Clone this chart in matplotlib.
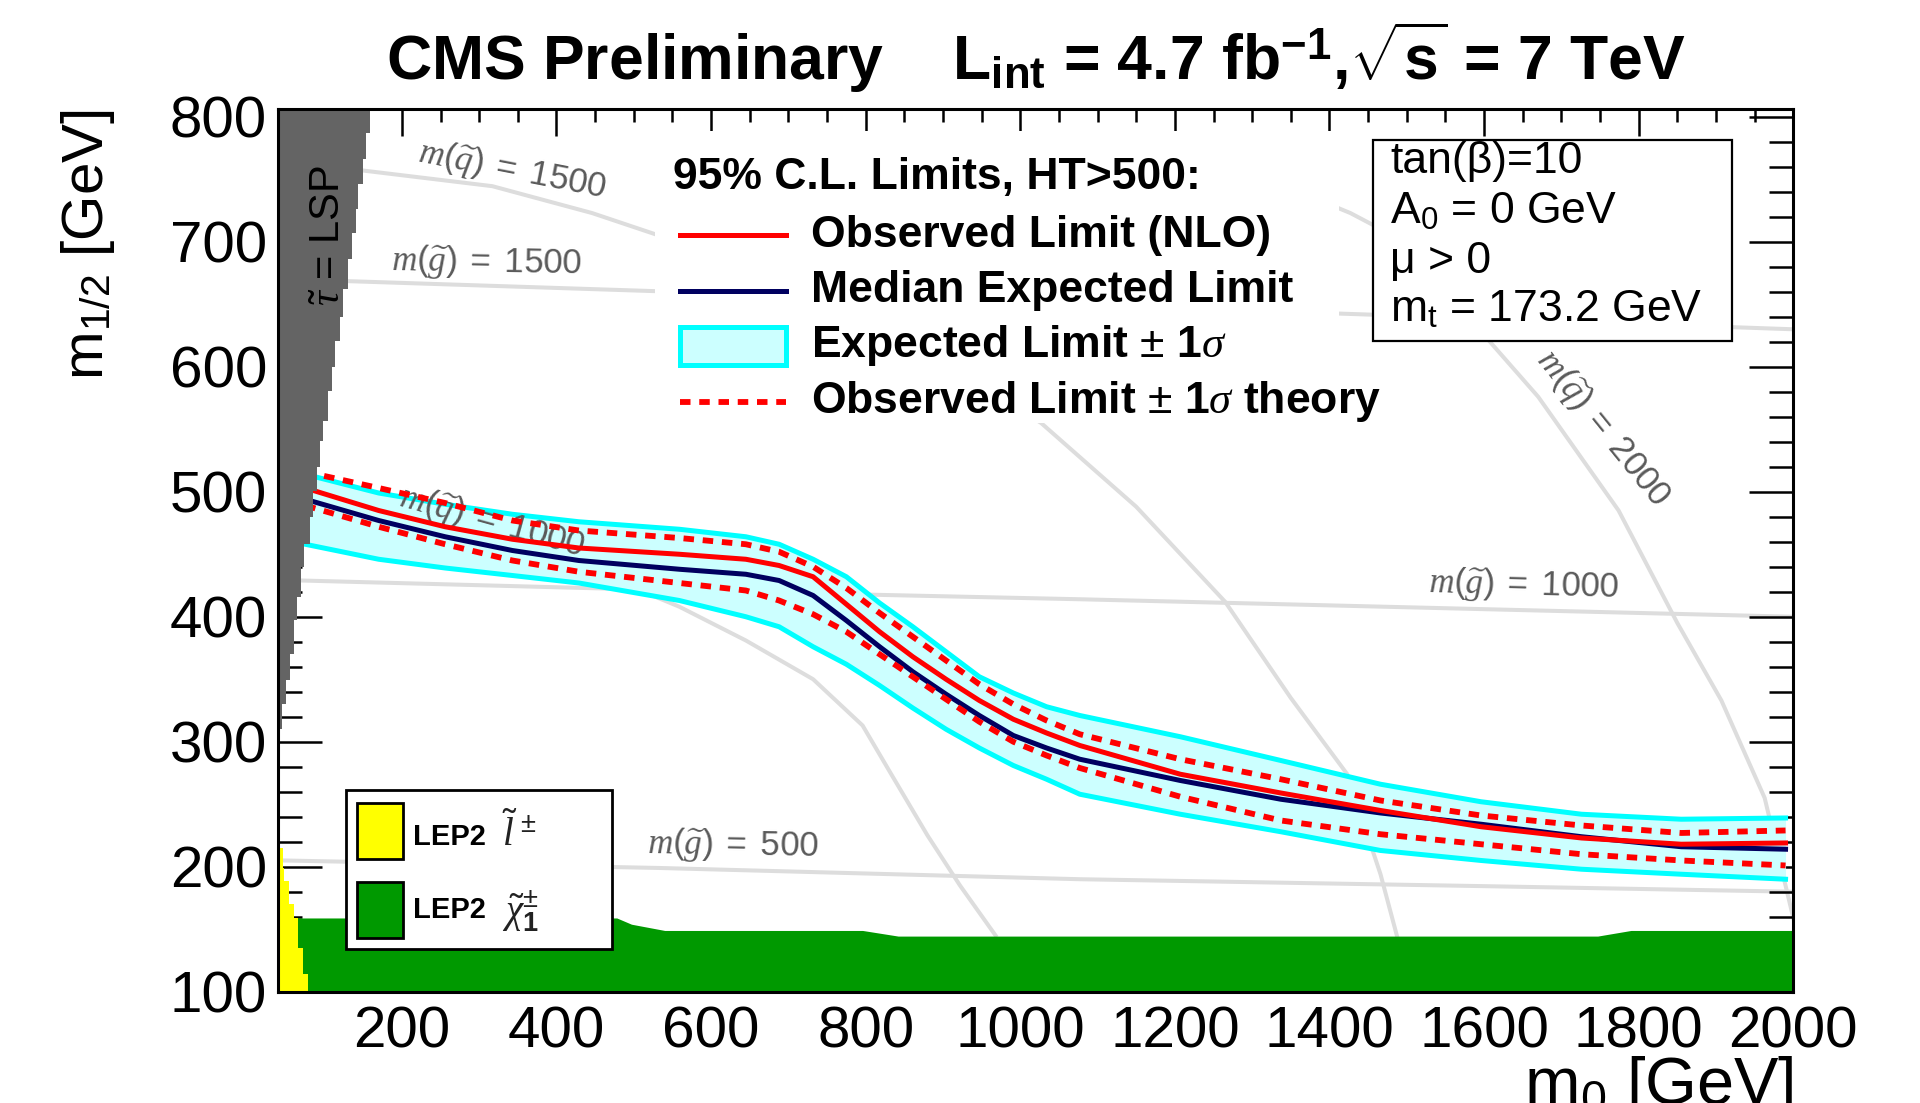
import matplotlib
matplotlib.use('Agg')
import matplotlib.pyplot as plt
from matplotlib.patches import Rectangle

plt.rcParams['font.family'] = ['Liberation Sans', 'DejaVu Sans']
plt.rcParams['mathtext.fontset'] = 'custom'
plt.rcParams['mathtext.rm'] = 'Liberation Sans'
plt.rcParams['mathtext.it'] = 'Liberation Serif:italic'
plt.rcParams['mathtext.bf'] = 'Liberation Sans:bold'
plt.rcParams['mathtext.sf'] = 'Liberation Sans'

# limit curves (m0, m1/2)
m0 = [75, 170, 256, 343, 429, 559, 645, 688, 732, 775, 818, 861, 904, 947, 991, 1034, 1077,
      1207, 1337, 1466, 1596, 1726, 1855, 1990]
obs = [503, 485, 472, 462, 455, 450, 446, 441, 432, 410, 388, 368, 350, 333, 318, 307, 297,
       274, 259, 245, 232, 223, 218, 219]
exp_med = [494, 477, 464, 453, 445, 438, 434, 429, 417, 397, 376, 356, 338, 321, 305, 295, 286,
           269, 254, 243, 234, 224, 216, 214]
obs_up = [516, 503, 491, 477, 469, 463, 458, 452, 440, 423, 403, 384, 365, 346, 330, 317, 306,
          286, 270, 253, 241, 233, 227, 229]
obs_dn = [489, 472, 458, 445, 436, 427, 421, 413, 402, 388, 370, 352, 334, 316, 300, 289, 279,
          256, 237, 226, 218, 210, 205, 201]
exp_up = [514, 499, 490, 482, 476, 470, 464, 458, 446, 432, 411, 392, 372, 352, 339, 328, 321,
          304, 285, 266, 252, 242, 238, 239]
exp_dn = [458, 446, 439, 433, 427, 413, 400, 392, 376, 362, 345, 327, 310, 295, 281, 270, 258,
          242, 228, 213, 205, 198, 194, 190]

# stau LSP region (staircase edge)
lsp_y = [806, 787, 766, 746, 726, 707, 686, 662, 640, 621, 600, 581, 557, 541, 520, 501, 480, 458, 440, 416, 397, 370, 349, 330, 310]
lsp_x = [159, 153, 150, 143, 140, 135, 130, 124, 120, 114, 109, 104, 98, 94, 90, 85, 81, 73, 70, 64, 61, 55, 50, 45, 42]

# LEP2 slepton (yellow) and chargino (green)
slep_y = [215, 199, 188.5, 170, 159, 135, 114, 100]
slep_x = [46, 48, 54.5, 60, 65, 72, 78, 78]
char_x = [40, 478, 497, 540, 796, 842, 1747, 1790, 2000]
char_y = [159, 159, 154, 149, 149, 144.5, 144.5, 149, 149]

# iso-mass lines
sq1000_x = [75, 170, 256, 343, 429, 485, 559, 645, 732, 796, 835, 880, 922, 968]
sq1000_y = [490, 482, 473, 459, 440, 427, 408, 381, 350, 313, 272, 225, 185, 145]
sq1500_x = [150, 317, 446, 528, 700, 880, 1027, 1150, 1265, 1350, 1423, 1466, 1488]
sq1500_y = [757, 744.5, 723, 706, 668, 612, 555, 488, 412, 335, 274, 194, 143]
sq2000_x = [1380, 1427, 1470, 1540, 1609, 1670, 1774, 1850, 1907, 1963, 2000]
sq2000_y = [735, 723, 709, 668, 619, 576, 485, 395, 333, 255, 159]
gl500_x = [47, 533, 1077, 1596, 2000]
gl500_y = [205, 199, 190, 184.5, 180]
gl1000_x = [70, 559, 1077, 2000]
gl1000_y = [429, 421, 414, 400]
gl1500_x = [131, 528, 1440, 2000]
gl1500_y = [668.5, 660.5, 642, 630]

iso_labels = [
    (r'$\mathit{m(\widetilde{q})\ =\ 1500}$', 343, 757, -11),
    (r'$\mathit{m(\widetilde{g})\ =\ 1500}$', 310, 683, -1),
    (r'$\mathit{m(\widetilde{q})\ =\ 1000}$', 316, 476, -15.5),
    (r'$\mathit{m(\widetilde{g})\ =\ 1000}$', 1652, 425, -1.5),
    (r'$\mathit{m(\widetilde{g})\ =\ 500}$', 628, 217, -1),
    (r'$\mathit{m(\widetilde{q})\ =\ 2000}$', 1753, 551, -51),
]

params = ['tan(\u03b2)=10', r'A$_{\mathregular{0}}$ = 0 GeV', '\u03bc > 0', r'm$_{\mathregular{t}}$ = 173.2 GeV']
leg_labels = ['Observed Limit (NLO)', 'Median Expected Limit',
              r'Expected Limit $\pm$ 1$\sigma$', r'Observed Limit $\pm$ 1$\sigma$ theory']

RED = '#ff0000'
NAVY = '#000060'
CYAN = '#00ffff'
LCYAN = '#ccffff'
GRAYL = '#dddddd'
dash = (0, (1.8, 1.5))

fig = plt.figure(figsize=(19.2, 11.03), dpi=100)
ax = fig.add_axes([0.1449, 0.1009, 0.7891, 0.8000])
ax.set_xlim(40, 2000)
ax.set_ylim(100, 806)

# iso-mass lines
for xs, ys in [(sq1000_x, sq1000_y), (sq1500_x, sq1500_y), (sq2000_x, sq2000_y),
               (gl500_x, gl500_y), (gl1000_x, gl1000_y), (gl1500_x, gl1500_y)]:
    ax.plot(xs, ys, color=GRAYL, lw=2.9, zorder=1)
for txt, x, y, rot in iso_labels:
    ax.text(x, y, txt, fontsize=25, color='#5a5a5a', rotation=rot,
            ha='center', va='center', rotation_mode='anchor', zorder=3.5)

# LEP regions
ax.fill_between(char_x, 100, char_y, color='#009900', lw=0, zorder=2)
ax.fill_betweenx(slep_y, 40, slep_x, step='post', color='#ffff00', lw=0, zorder=2.5)

# expected band + limits
ax.fill_between(m0, exp_dn, exp_up, color=LCYAN, lw=0, zorder=3)
ax.plot(m0, exp_up, color=CYAN, lw=3.6, zorder=3.2)
ax.plot(m0, exp_dn, color=CYAN, lw=3.6, zorder=3.2)
ax.plot(m0, exp_med, color=NAVY, lw=3.6, zorder=4)
ax.plot(m0, obs, color=RED, lw=3.6, zorder=4.2)
ax.plot(m0, obs_up, color=RED, lw=4.2, ls=dash, zorder=4.3)
ax.plot(m0, obs_dn, color=RED, lw=4.2, ls=dash, zorder=4.3)

# stau LSP
ax.fill_betweenx(lsp_y, 40, lsp_x, step='post', color='#646464', lw=0, zorder=5)
ax.text(106, 705, r'$\tilde{\tau}$ = LSP', rotation=90, fontsize=30,
        ha='center', va='center', color='black', zorder=5.5)

# main legend (white background, no frame)
ax.add_patch(Rectangle((0.249, 0.645), 0.451, 0.33, transform=ax.transAxes,
                       facecolor='white', edgecolor='none', zorder=6))
ax.text(0.2609, 0.9227, '95% C.L. Limits, HT>500:', transform=ax.transAxes,
        fontsize=32, fontweight='bold', va='center', ha='left', zorder=7)
rows = [0.8575, 0.7944, 0.7319, 0.6686]
x0, x1 = 0.2652, 0.3351
ax.plot([x0, x1], [rows[0]] * 2, color=RED, lw=3.6, transform=ax.transAxes, zorder=7)
ax.plot([x0, x1], [rows[1]] * 2, color=NAVY, lw=3.6, transform=ax.transAxes, zorder=7)
ax.add_patch(Rectangle((x0, rows[2] - 0.0217), x1 - x0, 0.0434, transform=ax.transAxes,
                       facecolor=LCYAN, edgecolor=CYAN, lw=3.6, zorder=7))
ax.plot([x0, x1], [rows[3]] * 2, color=RED, lw=4.2, ls=dash, transform=ax.transAxes, zorder=7)
for lab, yy in zip(leg_labels, rows):
    ax.text(0.3514, yy, lab, transform=ax.transAxes, fontsize=32, fontweight='bold',
            va='center', ha='left', zorder=7)

# parameter box
ax.add_patch(Rectangle((0.7224, 0.7378), 0.2370, 0.2274, transform=ax.transAxes,
                       facecolor='white', edgecolor='black', lw=1.6, zorder=6))
for lab, yy in zip(params, [0.9406, 0.8840, 0.8273, 0.7726]):
    ax.text(0.7338, yy, lab, transform=ax.transAxes, fontsize=32, va='center',
            ha='left', zorder=7)

# LEP legend
ax.add_patch(Rectangle((0.0450, 0.0484), 0.1755, 0.1802, transform=ax.transAxes,
                       facecolor='white', edgecolor='black', lw=2, zorder=6))
ax.add_patch(Rectangle((0.0517, 0.1500), 0.0308, 0.0642, transform=ax.transAxes,
                       facecolor='#ffff00', edgecolor='black', lw=2, zorder=7))
ax.add_patch(Rectangle((0.0517, 0.0612), 0.0308, 0.0635, transform=ax.transAxes,
                       facecolor='#009900', edgecolor='black', lw=2, zorder=7))
ax.text(0.0891, 0.1757, 'LEP2', transform=ax.transAxes,
        fontsize=21, fontweight='bold', va='center', ha='left', zorder=7)
ax.text(0.0891, 0.0927, 'LEP2', transform=ax.transAxes,
        fontsize=21, fontweight='bold', va='center', ha='left', zorder=7)
ax.text(0.1480, 0.1800, r'$\tilde{\mathit{l}}^{\,\pm}$', transform=ax.transAxes,
        fontsize=28, color='#222222', va='center', ha='left', zorder=7)
ax.text(0.1480, 0.0900, r'$\tilde{\chi}^{\pm}_{\mathbf{1}}$', transform=ax.transAxes,
        fontsize=28, color='#222222', va='center', ha='left', zorder=7)

# axes styling
ax.set_xticks(range(200, 2001, 200))
ax.set_xticks(range(50, 2001, 50), minor=True)
ax.set_yticks(range(100, 801, 100))
ax.set_yticks(range(100, 801, 20), minor=True)
ax.tick_params(which='both', direction='in', top=True, right=True, width=1.8, labelsize=42)
ax.tick_params(axis='x', which='major', length=19.5, pad=10)
ax.tick_params(axis='x', which='minor', length=9.5)
ax.tick_params(axis='y', which='major', length=32, pad=8)
ax.tick_params(axis='y', which='minor', length=17)
for sp in ax.spines.values():
    sp.set_linewidth(2.2)
    sp.set_zorder(10)

fig.text(0.0458, 0.778, r'm$_{\mathregular{1/2}}$ [GeV]', rotation=90, fontsize=42,
         ha='center', va='center')
fig.text(0.9344, 0.044, r'm$_{\mathregular{0}}$ [GeV]', fontsize=48, ha='right', va='top')
fig.text(0.5396, 0.9278,
         r'CMS Preliminary    L$_{\mathregular{int}}$ = 4.7 fb$^{\mathregular{-1}}$,$\sqrt{\mathregular{s}}$ = 7 TeV',
         fontsize=45, fontweight='bold', ha='center', va='baseline')

fig.savefig('out.png', dpi=100)
